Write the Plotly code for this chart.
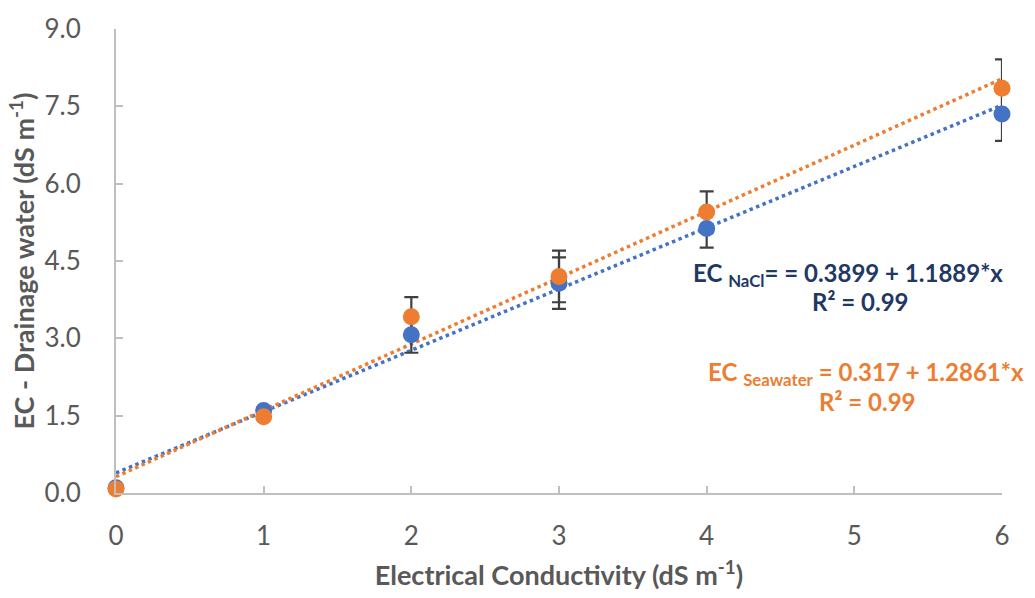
import numpy as np
import plotly.graph_objects as go

# ---- data ----
ec_levels = [0, 1, 2, 3, 4, 6]
nacl_mean = [0.10, 1.60, 3.07, 4.07, 5.13, 7.35]
nacl_err = [0.02, 0.06, 0.35, 0.50, 0.37, 0.52]
sea_mean = [0.08, 1.48, 3.42, 4.20, 5.45, 7.85]
sea_err = [0.02, 0.06, 0.38, 0.50, 0.40, 0.56]

nacl_fit = (0.3899, 1.1889)   # intercept, slope
sea_fit = (0.317, 1.2861)

x_ticks = [0, 1, 2, 3, 4, 5, 6]
y_ticks = [0.0, 1.5, 3.0, 4.5, 6.0, 7.5, 9.0]

BLUE = "#4472C4"
ORANGE = "#ED7D31"
NAVY = "#1F3864"
GRAY_TXT = "#595959"
AXIS = "#BFBFBF"
ERR = "#404040"
FONT = "Lato"

fig = go.Figure()

# trend lines
xf = np.array([min(ec_levels), max(ec_levels)], dtype=float)
for (b0, b1), col in [(nacl_fit, BLUE), (sea_fit, ORANGE)]:
    fig.add_trace(go.Scatter(
        x=xf, y=b0 + b1 * xf, mode="lines",
        line=dict(color=col, width=3.5, dash="dot"),
        hoverinfo="skip", showlegend=False, cliponaxis=False))

# error bars (drawn beneath markers)
for mean, err in [(nacl_mean, nacl_err), (sea_mean, sea_err)]:
    fig.add_trace(go.Scatter(
        x=ec_levels, y=mean, mode="markers",
        marker=dict(size=1, color="rgba(0,0,0,0)"),
        error_y=dict(type="data", array=err, visible=True,
                     color=ERR, thickness=2.2, width=7),
        hoverinfo="skip", showlegend=False, cliponaxis=False))

# markers
for mean, col, name in [(nacl_mean, BLUE, "NaCl"), (sea_mean, ORANGE, "Seawater")]:
    fig.add_trace(go.Scatter(
        x=ec_levels, y=mean, mode="markers", name=name,
        marker=dict(size=17, color=col),
        showlegend=False, cliponaxis=False))

# equations
ann_font = dict(family=FONT, size=24)
fig.add_annotation(x=4.96, y=4.24, xref="x", yref="y", showarrow=False,
                   text="<b>EC <sub>NaCl</sub>= = 0.3899 + 1.1889*x</b>",
                   font=dict(**ann_font, color=NAVY))
fig.add_annotation(x=5.04, y=3.71, xref="x", yref="y", showarrow=False,
                   text="<b>R² = 0.99</b>", font=dict(**ann_font, color=NAVY))
fig.add_annotation(x=5.08, y=2.31, xref="x", yref="y", showarrow=False,
                   text="<b>EC <sub>Seawater</sub> = 0.317 + 1.2861*x</b>",
                   font=dict(**ann_font, color=ORANGE))
fig.add_annotation(x=5.09, y=1.78, xref="x", yref="y", showarrow=False,
                   text="<b>R² = 0.99</b>", font=dict(**ann_font, color=ORANGE))

fig.update_layout(
    width=1035, height=598,
    margin=dict(l=116, r=33, t=26, b=100),
    paper_bgcolor="white", plot_bgcolor="white",
    font=dict(family=FONT, color=GRAY_TXT, size=20),
    showlegend=False,
)
fig.update_xaxes(
    range=[0, 6], tickvals=x_ticks, ticktext=[str(v) for v in x_ticks],
    showgrid=False, zeroline=False, showline=True, linecolor=AXIS, linewidth=2,
    ticks="inside", ticklen=7, tickwidth=2, tickcolor=AXIS,
    tickfont=dict(size=26, color=GRAY_TXT), ticklabelstandoff=19,
    title=dict(text="<b>Electrical Conductivity (dS m<sup>-1</sup>)</b>",
               font=dict(size=27, color=GRAY_TXT), standoff=16),
)
fig.update_yaxes(
    range=[0, 9], tickvals=y_ticks, ticktext=[f"{v:.1f}" for v in y_ticks],
    showgrid=False, zeroline=False, showline=True, linecolor=AXIS, linewidth=2,
    ticks="inside", ticklen=7, tickwidth=2, tickcolor=AXIS,
    tickfont=dict(size=26, color=GRAY_TXT), ticklabelstandoff=28,
    title=dict(text="<b>EC - Drainage water (dS m<sup>-1</sup>)</b>",
               font=dict(size=27, color=GRAY_TXT), standoff=2),
)

fig.write_html("out.html")
